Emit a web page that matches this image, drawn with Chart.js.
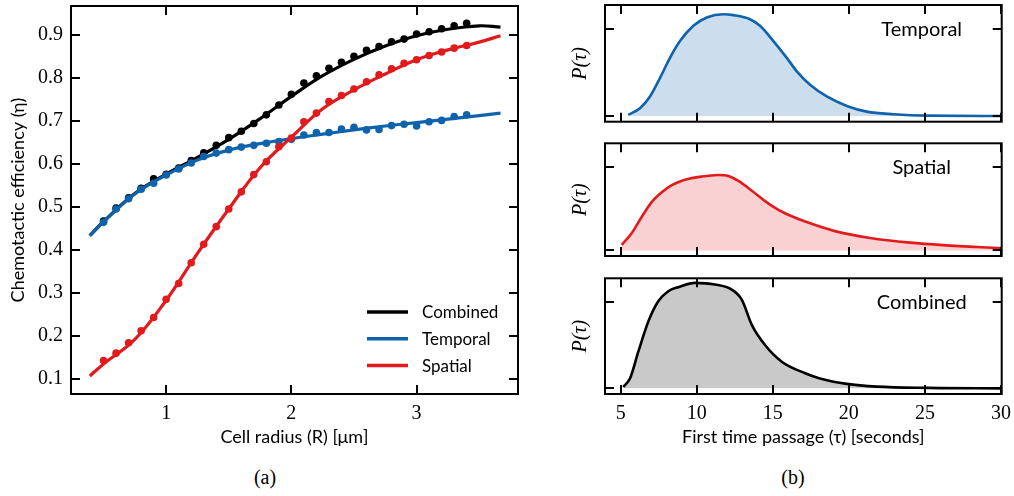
<!DOCTYPE html>
<html>
<head>
<meta charset="utf-8">
<script src="https://cdn.jsdelivr.net/npm/chart.js@4.4.1/dist/chart.umd.min.js"></script>
<style>
  body { margin: 0; background: #fff; }
  #page { position: relative; width: 1014px; height: 496px; overflow: hidden; background: #fff; }
  canvas { position: absolute; }
  .panel { position: absolute; top: 466px; width: 60px; text-align: center;
           font-family: "Liberation Serif", serif; font-size: 20px; color: #000; }
</style>
</head>
<body>
<div id="page">
  <canvas id="eff" width="540" height="460" style="left:0;top:0"></canvas>
  <canvas id="pTemporal" width="474" height="130" style="left:540px;top:0"></canvas>
  <canvas id="pSpatial" width="474" height="135" style="left:540px;top:130px"></canvas>
  <canvas id="pCombined" width="474" height="195" style="left:540px;top:265px"></canvas>
  <div class="panel" style="left:235px">(a)</div>
  <div class="panel" style="left:763px">(b)</div>
</div>
<script>
// (a) chemotactic efficiency vs cell radius
const radius = [0.5, 0.6, 0.7, 0.8, 0.9, 1.0, 1.1, 1.2, 1.3, 1.4, 1.5, 1.6, 1.7, 1.8, 1.9,
                2.0, 2.1, 2.2, 2.3, 2.4, 2.5, 2.6, 2.7, 2.8, 2.9, 3.0, 3.1, 3.2, 3.3, 3.4];
const effCombined = [0.467, 0.497, 0.521, 0.543, 0.565, 0.576, 0.590, 0.608, 0.626, 0.643,
                     0.661, 0.676, 0.694, 0.714, 0.737, 0.762, 0.788, 0.805, 0.822, 0.836,
                     0.850, 0.864, 0.873, 0.884, 0.890, 0.902, 0.907, 0.914, 0.921, 0.927];
const effTemporal = [0.464, 0.495, 0.519, 0.541, 0.555, 0.574, 0.588, 0.602, 0.617, 0.625,
                     0.633, 0.639, 0.643, 0.648, 0.652, 0.657, 0.667, 0.673, 0.673, 0.681,
                     0.685, 0.679, 0.680, 0.689, 0.692, 0.688, 0.698, 0.701, 0.710, 0.714];
const effSpatial = [0.143, 0.160, 0.184, 0.212, 0.243, 0.285, 0.322, 0.370, 0.413, 0.454,
                    0.495, 0.535, 0.575, 0.605, 0.640, 0.660, 0.698, 0.718, 0.745, 0.759,
                    0.774, 0.791, 0.807, 0.821, 0.834, 0.842, 0.852, 0.860, 0.869, 0.875];

const fitRadius = [0.39, 0.5, 0.75, 1.0, 1.25, 1.5, 1.75, 2.0, 2.25, 2.5, 2.75, 3.0, 3.25, 3.5, 3.67];
const fitCombined = [0.433, 0.466, 0.531, 0.576, 0.615, 0.657, 0.705, 0.757, 0.805, 0.843,
                     0.874, 0.898, 0.913, 0.921, 0.918];
const fitTemporal = [0.433, 0.465, 0.530, 0.574, 0.609, 0.632, 0.647, 0.659, 0.669, 0.679,
                     0.688, 0.696, 0.704, 0.712, 0.718];
const fitSpatial = [0.107, 0.135, 0.192, 0.283, 0.392, 0.495, 0.591, 0.662, 0.728, 0.772,
                    0.809, 0.842, 0.865, 0.883, 0.898];

const seriesNames = ["Combined", "Temporal", "Spatial"];

// (b) first passage time distributions
const tauTemporal = [5.5, 6.27, 6.93, 7.59, 8.24, 8.9, 9.78, 10.66, 11.75, 12.41, 13.5, 14.16,
                     15.04, 15.92, 16.58, 17.45, 18.55, 19.87, 21.18, 22.94, 25.1, 30];
const pTemporal = [0.0012, 0.009, 0.0225, 0.044, 0.067, 0.0864, 0.104, 0.1136, 0.1174, 0.1163,
                   0.1116, 0.104, 0.0864, 0.067, 0.0515, 0.036, 0.0225, 0.0116, 0.005, 0.002,
                   0.0004, 0];
const tauSpatial = [5.07, 5.72, 6.38, 7.04, 7.7, 8.36, 9.23, 10.33, 11.42, 12.08, 12.74, 13.62,
                    14.49, 15.37, 16.25, 17.13, 19.21, 21.4, 24.03, 26.2, 30];
const pSpatial = [0.0067, 0.0205, 0.04, 0.0577, 0.0694, 0.078, 0.0844, 0.0883, 0.0902, 0.089,
                  0.083, 0.0714, 0.059, 0.0485, 0.0408, 0.0345, 0.0225, 0.015, 0.0094, 0.0064,
                  0.0028];
const tauCombined = [5.17, 5.61, 6.16, 6.82, 7.47, 8.13, 8.79, 9.89, 11.2, 12.3, 12.96, 13.62,
                     14.49, 15.59, 17.13, 18.1, 19.87, 21.84, 25.13, 30];
const pCombined = [0.0016, 0.0114, 0.0427, 0.0778, 0.1013, 0.113, 0.1177, 0.1227, 0.1208, 0.1149,
                   0.1032, 0.0739, 0.0504, 0.031, 0.0175, 0.0115, 0.0052, 0.002, 0.0005, 0];

const BLUE = "#0f63ad";
const RED = "#e31a1c";
const sans = "Lato";
const serif = "Liberation Serif";

const pts = (xs, ys) => xs.map((x, i) => ({ x, y: ys[i] }));

// pin the axis boxes so the plot areas land where the reference has them
const fixBox = (size) => (scale) => {
  if (scale.isHorizontal()) scale.height = size;
  else scale.width = size;
  scale.paddingTop = scale.paddingBottom = scale.paddingLeft = scale.paddingRight = 0;
};

// box around the plot + inward ticks on all four sides
const framePlugin = {
  id: "frame",
  afterDatasetsDraw(chart) {
    const { ctx, chartArea: a, scales } = chart;
    const len = 9;
    ctx.save();
    ctx.strokeStyle = "#000";
    ctx.lineWidth = 2;
    ctx.beginPath();
    scales.x.ticks.forEach((t) => {
      const px = Math.round(scales.x.getPixelForValue(t.value));
      ctx.moveTo(px, a.bottom); ctx.lineTo(px, a.bottom - len);
      ctx.moveTo(px, a.top); ctx.lineTo(px, a.top + len);
    });
    scales.y.ticks.forEach((t) => {
      const py = Math.round(scales.y.getPixelForValue(t.value));
      ctx.moveTo(a.left, py); ctx.lineTo(a.left + len, py);
      ctx.moveTo(a.right, py); ctx.lineTo(a.right - len, py);
    });
    ctx.stroke();
    ctx.strokeRect(a.left, a.top, a.right - a.left, a.bottom - a.top);
    ctx.restore();
  },
};

// legend drawn inside the lower right of panel (a)
const innerLegend = {
  id: "innerLegend",
  afterDraw(chart) {
    const { ctx, chartArea: a } = chart;
    const colors = ["#000", BLUE, RED];
    ctx.save();
    ctx.font = `17px ${sans}`;
    ctx.textBaseline = "middle";
    ctx.fillStyle = "#000";
    seriesNames.forEach((name, i) => {
      const y = a.bottom - 82 + i * 26.8;
      ctx.strokeStyle = colors[i];
      ctx.lineWidth = 3.5;
      ctx.beginPath();
      ctx.moveTo(a.right - 151, y);
      ctx.lineTo(a.right - 110, y);
      ctx.stroke();
      ctx.fillText(name, a.right - 96, y + 1);
    });
    ctx.restore();
  },
};

const cornerLabel = {
  id: "cornerLabel",
  afterDraw(chart, args, opts) {
    const { ctx, chartArea: a } = chart;
    ctx.save();
    ctx.font = `20px ${sans}`;
    ctx.fillStyle = "#000";
    ctx.textAlign = "center";
    ctx.textBaseline = "alphabetic";
    ctx.fillText(opts.text, a.right - 80, a.top + 31);
    ctx.restore();
  },
};

const fitLine = (xs, ys, color, order) => ({
  data: pts(xs, ys), borderColor: color, borderWidth: 3.2, pointRadius: 0,
  tension: 0.4, fill: false, order,
});
const dots = (xs, ys, color, order) => ({
  data: pts(xs, ys), showLine: false, pointRadius: 3.8, pointBorderWidth: 0,
  pointBackgroundColor: color, borderColor: color, order,
});

new Chart(document.getElementById("eff"), {
  type: "line",
  data: {
    datasets: [
      fitLine(fitRadius, fitCombined, "#000", 5),
      dots(radius, effCombined, "#000", 4),
      fitLine(fitRadius, fitTemporal, BLUE, 3),
      dots(radius, effTemporal, BLUE, 2),
      fitLine(fitRadius, fitSpatial, RED, 1),
      dots(radius, effSpatial, RED, 0),
    ],
  },
  options: {
    responsive: false,
    animation: false,
    layout: { padding: { top: 6, right: 22, left: 0, bottom: 0 } },
    plugins: { legend: { display: false }, tooltip: { enabled: false } },
    scales: {
      x: {
        type: "linear", min: 0.24, max: 3.81,
        grid: { display: false, drawTicks: false }, border: { display: false },
        ticks: { stepSize: 1, includeBounds: false, padding: 8, color: "#000",
                 font: { family: serif, size: 20 } },
        title: { display: true, text: "Cell radius (R) [μm]", color: "#000",
                 font: { family: sans, size: 18 }, padding: { top: 0, bottom: 12 } },
        afterFit: fixBox(66),
      },
      y: {
        type: "linear", min: 0.065, max: 0.967,
        grid: { display: false, drawTicks: false }, border: { display: false },
        ticks: { stepSize: 0.1, includeBounds: false, padding: 8, color: "#000",
                 font: { family: serif, size: 20 }, callback: (v) => v.toFixed(1) },
        title: { display: true, text: "Chemotactic efficiency (η)", color: "#000",
                 font: { family: sans, size: 18 }, padding: { top: 7, bottom: 0 } },
        afterFit: fixBox(71),
      },
    },
  },
  plugins: [framePlugin, innerLegend],
});

const distChart = (id, xs, ys, color, fillColor, label, topPad, xBox, showX) => {
  new Chart(document.getElementById(id), {
    type: "line",
    data: {
      datasets: [{
        data: pts(xs, ys), borderColor: color, borderWidth: 2.6, pointRadius: 0,
        cubicInterpolationMode: "monotone", fill: "origin", backgroundColor: fillColor,
      }],
    },
    options: {
      responsive: false,
      animation: false,
      layout: { padding: { top: topPad, right: 12.3, left: 0, bottom: 0 } },
      plugins: { legend: { display: false }, tooltip: { enabled: false }, cornerLabel: { text: label } },
      scales: {
        x: {
          type: "linear", min: 3.97, max: 30.05,
          grid: { display: false, drawTicks: false }, border: { display: false },
          ticks: { display: showX, stepSize: 5, includeBounds: false, padding: 8, color: "#000",
                   font: { family: serif, size: 20 } },
          title: { display: showX, text: "First time passage (τ) [seconds]", color: "#000",
                   font: { family: sans, size: 18 }, padding: { top: 0, bottom: 12 } },
          afterFit: fixBox(xBox),
        },
        y: {
          type: "linear", min: -0.0066, max: 0.128,
          grid: { display: false, drawTicks: false }, border: { display: false },
          ticks: { display: false, stepSize: 0.1, includeBounds: false },
          title: { display: true, text: "P(τ)", color: "#000",
                   font: { family: serif, size: 20, style: "italic" }, padding: { top: 29, bottom: 0 } },
          afterFit: fixBox(65),
        },
      },
    },
    plugins: [framePlugin, cornerLabel],
  });
};

distChart("pTemporal", tauTemporal, pTemporal, BLUE, "rgba(15,99,173,0.21)", "Temporal", 5, 8.3, false);
distChart("pSpatial", tauSpatial, pSpatial, RED, "rgba(227,26,28,0.2)", "Spatial", 13.3, 9, false);
distChart("pCombined", tauCombined, pCombined, "#000", "rgba(0,0,0,0.21)", "Combined", 13.3, 66, true);
</script>
</body>
</html>
